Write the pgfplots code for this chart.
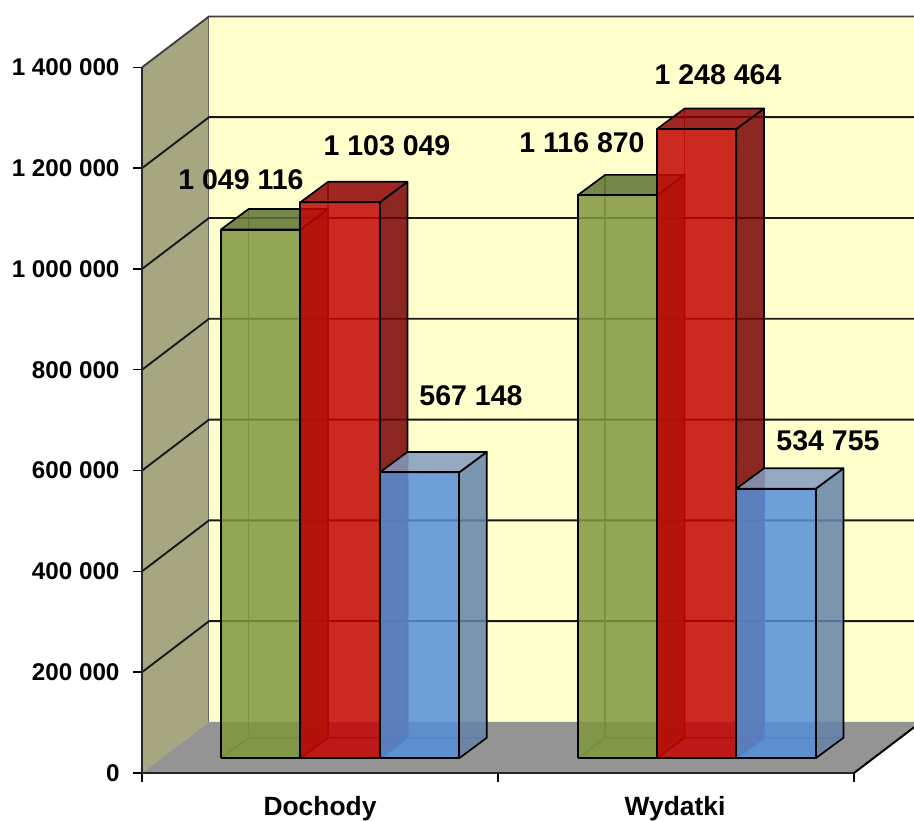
\documentclass[border=0pt]{standalone}
\usepackage{fontspec}
\setmainfont{Liberation Sans}
\usepackage{pgfplots}
\pgfplotsset{compat=1.18}

\definecolor{wallback}{RGB}{255,255,204}
\definecolor{wallside}{RGB}{166,166,128}
\definecolor{floorc}{RGB}{148,148,148}
\definecolor{gfront}{RGB}{127,151,62}
\definecolor{gside}{RGB}{73,90,28}
\definecolor{gtop}{RGB}{93,114,51}
\definecolor{ghid}{RGB}{70,85,30}
\definecolor{rfront}{RGB}{195,5,4}
\definecolor{rside}{RGB}{120,2,5}
\definecolor{rtop}{RGB}{143,2,5}
\definecolor{rhid}{RGB}{130,0,0}
\definecolor{bfront}{RGB}{85,143,216}
\definecolor{bside}{RGB}{102,131,169}
\definecolor{btop}{RGB}{132,155,193}
\definecolor{bhid}{RGB}{55,85,145}

% one pixel of the picture is 1984 value units, bars stand 14.7 px inside the floor
\newcommand{\barbase}{29170}
\newcommand{\bardepth}{40700}

% left px, value, front, side, top, hidden edge colours
\newcommand{\drawbar}[6]{%
  \pgfmathsetmacro{\xa}{#1}%
  \pgfmathsetmacro{\xb}{#1+79.4}%
  \pgfmathsetmacro{\xc}{#1+27.7}%
  \pgfmathsetmacro{\xd}{#1+107.1}%
  \edef\ya{\barbase}%
  \edef\yb{\the\numexpr\barbase+#2\relax}%
  \edef\yc{\the\numexpr\barbase+\bardepth\relax}%
  \edef\yd{\the\numexpr\barbase+\bardepth+#2\relax}%
  \addplot[draw=#6,draw opacity=.8,line width=1.6pt] coordinates {(\xc,\yc) (\xc,\yd)};
  \addplot[draw=#6,draw opacity=.8,line width=1.6pt] coordinates {(\xa,\ya) (\xc,\yc) (\xd,\yc)};
  \addplot[fill=#4,fill opacity=.85,draw=black,line width=1.7pt,line join=round]
    coordinates {(\xb,\ya) (\xd,\yc) (\xd,\yd) (\xb,\yb) (\xb,\ya)};
  \addplot[fill=#5,fill opacity=.85,draw=black,line width=1.7pt,line join=round]
    coordinates {(\xa,\yb) (\xc,\yd) (\xd,\yd) (\xb,\yb) (\xa,\yb)};
  \addplot[fill=#3,fill opacity=.85,draw=black,line width=2pt,line join=round]
    coordinates {(\xa,\ya) (\xa,\yb) (\xb,\yb) (\xb,\ya) (\xa,\ya)};
}

% tick value: line over the side wall and across the back wall
\newcommand{\gridline}[1]{%
  \edef\yg{\the\numexpr#1+101184\relax}%
  \addplot[draw=black!90,line width=1.9pt] coordinates {(142,#1) (209,\yg) (914,\yg)};
}

% the tick mark left of the front edge
\newcommand{\ytickmark}[1]{%
  \addplot[draw=black,line width=1.4pt] coordinates {(133.5,#1) (142,#1)};
}

% centre px, height in value units, text
\newcommand{\barlabel}[3]{%
  \node[font=\fontsize{28.5}{28.5}\selectfont\bfseries,anchor=center,inner sep=0pt]
    at (axis cs:#1,#2) {#3};
}

\begin{document}
\begin{tikzpicture}[x=1pt,y=1pt]
\useasboundingbox (0,0) rectangle (914,821);
\begin{axis}[
  at={(142pt,48pt)},
  anchor=south west,
  scale only axis,
  width=772pt,
  height=773pt,
  xmin=142,
  xmax=914,
  ymin=0,
  ymax=1533730,
  clip=false,
  axis line style={draw=none},
  tick align=outside,
  tick style={black,line width=1.4pt},
  major tick length=9pt,
  xtick={142,498,854},
  xticklabels={},
  extra x ticks={320,675},
  extra x tick labels={Dochody,Wydatki},
  extra x tick style={major tick length=0pt,
    tick label style={font=\fontsize{26.4}{26.4}\selectfont\bfseries,yshift=-20pt}},
  ytick={0,200000,400000,600000,800000,1000000,1200000,1400000},
  scaled y ticks=false,
  xtick pos=bottom,
  ytick pos=left,
  yticklabel style={font=\fontsize{24.2}{24.2}\selectfont\bfseries,xshift=-10pt,
    /pgf/number format/.cd,fixed,1000 sep={\ },assume math mode=true},
]
% walls and floor
\addplot[fill=wallback,draw=none] coordinates {(209,101184) (209,1501000) (914,1501000) (914,101184) (209,101184)};
\addplot[fill=wallside,draw=none] coordinates {(142,0) (209,101184) (209,1501000) (142,1400000) (142,0)};
\addplot[fill=floorc,draw=none] coordinates {(142,0) (854,0) (914,90670) (914,101184) (209,101184) (142,0)};
\addplot[draw=black!60,line width=1pt] coordinates {(209,101184) (209,1501000)};
\addplot[draw=black!75,line width=1.9pt] coordinates {(142,1400000) (209,1501000) (914,1501000)};
\gridline{200000}
\gridline{400000}
\gridline{600000}
\gridline{800000}
\gridline{1000000}
\gridline{1200000}
\ytickmark{0}
\ytickmark{200000}
\ytickmark{400000}
\ytickmark{600000}
\ytickmark{800000}
\ytickmark{1000000}
\ytickmark{1200000}
\ytickmark{1400000}
\addplot[draw=black!85,line width=2pt] coordinates {(142,0) (854,0)};
\addplot[draw=black,line width=2pt] coordinates {(854,0) (914,90670)};
\addplot[draw=black!85,line width=1.9pt] coordinates {(142,0) (142,1400000)};
% Dochody
\drawbar{220.9}{1049116}{gfront}{gside}{gtop}{ghid}
\drawbar{300.3}{1103049}{rfront}{rside}{rtop}{rhid}
\drawbar{379.7}{567148}{bfront}{bside}{btop}{bhid}
% Wydatki
\drawbar{577.5}{1116870}{gfront}{gside}{gtop}{ghid}
\drawbar{656.9}{1248464}{rfront}{rside}{rtop}{rhid}
\drawbar{736.3}{534755}{bfront}{bside}{btop}{bhid}
% value labels
\barlabel{241}{1176512}{1 049 116}
\barlabel{387}{1243968}{1 103 049}
\barlabel{471}{747968}{567 148}
\barlabel{582}{1249920}{1 116 870}
\barlabel{718}{1384832}{1 248 464}
\barlabel{828}{658688}{534 755}
\end{axis}
\end{tikzpicture}
\end{document}
